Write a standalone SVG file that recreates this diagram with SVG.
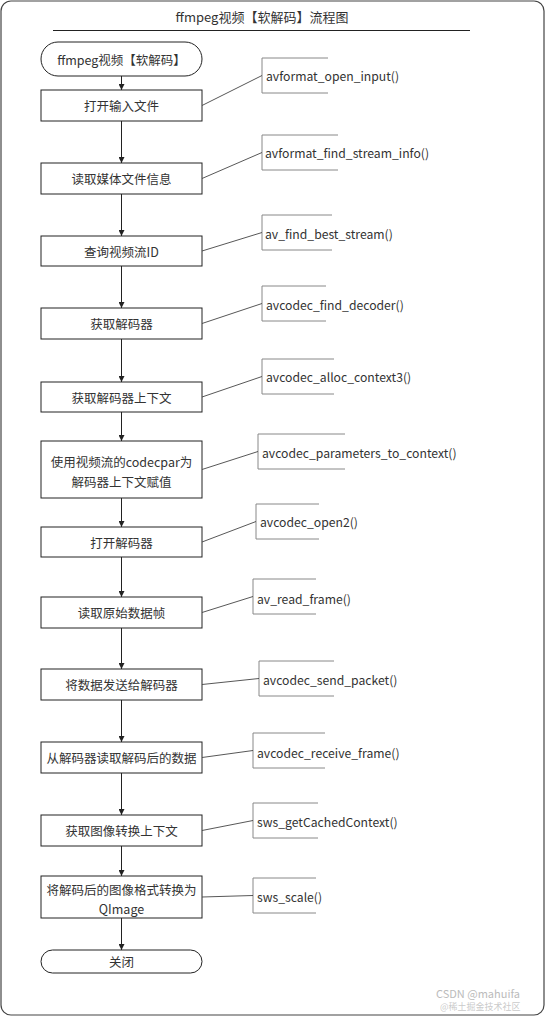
<svg xmlns="http://www.w3.org/2000/svg" width="545" height="1017" viewBox="0 0 545 1017">
<style>
  .frame{fill:#fff;stroke:#444;stroke-width:1.2}
  .box{fill:#fff;stroke:#222;stroke-width:1}
  .t{font-family:"Noto Sans CJK SC","Microsoft YaHei",sans-serif;font-size:12.5px;fill:#333;text-anchor:middle;dominant-baseline:central}
  .a{font-family:"Noto Sans CJK SC","Microsoft YaHei",sans-serif;font-size:12.2px;fill:#333;dominant-baseline:central}
  .br{fill:none;stroke:#888;stroke-width:1}
  .flow{stroke:#222;stroke-width:1;fill:none}
  .link{stroke:#444;stroke-width:0.9;fill:none}
  .wm{font-family:"Noto Sans CJK SC","Microsoft YaHei",sans-serif;fill:#bbb}
</style>
<defs>
  <marker id="arr" viewBox="0 0 10 10" refX="10" refY="5" markerWidth="6" markerHeight="6" markerUnits="userSpaceOnUse" orient="auto">
    <path d="M0,0 L10,5 L0,10 z" fill="#222"/>
  </marker>
</defs>
<rect class="frame" x="1" y="1" width="543" height="1014" rx="10"/>
<g id="title">
  <text class="t" x="262" y="16" style="font-size:13px">ffmpeg视频【软解码】流程图</text>
  <line x1="53" y1="30.5" x2="470" y2="30.5" stroke="#222" stroke-width="1"/>
</g>

<g id="n0"><rect class="box" x="41" y="42" width="161" height="34" rx="17"/><text class="t" x="121.5" y="59">ffmpeg视频【软解码】</text></g>
<g id="n1"><rect class="box" x="41" y="90" width="161" height="31"/><text class="t" x="121.5" y="105.5">打开输入文件</text></g>
<g id="n2"><rect class="box" x="41" y="163" width="161" height="31"/><text class="t" x="121.5" y="178.5">读取媒体文件信息</text></g>
<g id="n3"><rect class="box" x="41" y="236" width="161" height="30"/><text class="t" x="121.5" y="251">查询视频流ID</text></g>
<g id="n4"><rect class="box" x="41" y="308" width="161" height="31"/><text class="t" x="121.5" y="323.5">获取解码器</text></g>
<g id="n5"><rect class="box" x="41" y="382" width="161" height="30"/><text class="t" x="121.5" y="397">获取解码器上下文</text></g>
<g id="n6"><rect class="box" x="41" y="441" width="161" height="57"/><text class="t" x="121.5" y="461">使用视频流的codecpar为</text><text class="t" x="121.5" y="481">解码器上下文赋值</text></g>
<g id="n7"><rect class="box" x="41" y="527" width="161" height="30"/><text class="t" x="121.5" y="542">打开解码器</text></g>
<g id="n8"><rect class="box" x="41" y="597" width="161" height="31"/><text class="t" x="121.5" y="612.5">读取原始数据帧</text></g>
<g id="n9"><rect class="box" x="41" y="669" width="161" height="31"/><text class="t" x="121.5" y="684.5">将数据发送给解码器</text></g>
<g id="n10"><rect class="box" x="41" y="742" width="161" height="31"/><text class="t" x="121.5" y="757.5">从解码器读取解码后的数据</text></g>
<g id="n11"><rect class="box" x="41" y="815" width="161" height="31"/><text class="t" x="121.5" y="830.5">获取图像转换上下文</text></g>
<g id="n12"><rect class="box" x="41" y="876" width="161" height="42"/><text class="t" x="121.5" y="889">将解码后的图像格式转换为</text><text class="t" x="121.5" y="908">QImage</text></g>
<g id="n13"><rect class="box" x="41" y="950" width="161" height="23" rx="11.5"/><text class="t" x="121.5" y="961.5">关闭</text></g>

<g id="notes">
  <g id="a1"><path class="br" d="M328,58 H262 V93 H328"/><text class="a" x="266" y="76">avformat_open_input()</text></g>
  <g id="a2"><path class="br" d="M338,135 H262 V170 H338"/><text class="a" x="265" y="153">avformat_find_stream_info()</text></g>
  <g id="a3"><path class="br" d="M332,215 H262 V250 H332"/><text class="a" x="265" y="234">av_find_best_stream()</text></g>
  <g id="a4"><path class="br" d="M326,286 H262 V321 H326"/><text class="a" x="266" y="305">avcodec_find_decoder()</text></g>
  <g id="a5"><path class="br" d="M334,359 H262 V394 H334"/><text class="a" x="266" y="377">avcodec_alloc_context3()</text></g>
  <g id="a6"><path class="br" d="M345,434 H258 V469 H345"/><text class="a" x="262" y="453">avcodec_parameters_to_context()</text></g>
  <g id="a7"><path class="br" d="M319,504 H256 V539 H319"/><text class="a" x="260" y="522">avcodec_open2()</text></g>
  <g id="a8"><path class="br" d="M316,579 H253 V614 H316"/><text class="a" x="257" y="599">av_read_frame()</text></g>
  <g id="a9"><path class="br" d="M334,661 H259 V696 H334"/><text class="a" x="263" y="680">avcodec_send_packet()</text></g>
  <g id="a10"><path class="br" d="M325,733 H253 V768 H325"/><text class="a" x="257" y="753">avcodec_receive_frame()</text></g>
  <g id="a11"><path class="br" d="M318,803 H253 V838 H318"/><text class="a" x="257" y="822">sws_getCachedContext()</text></g>
  <g id="a12"><path class="br" d="M316,878 H253 V913 H316"/><text class="a" x="257" y="897">sws_scale()</text></g>
</g>

<g id="connectors">
  <line class="flow" x1="121.5" y1="76" x2="121.5" y2="90" marker-end="url(#arr)"/>
  <line class="flow" x1="121.5" y1="121" x2="121.5" y2="163" marker-end="url(#arr)"/>
  <line class="flow" x1="121.5" y1="194" x2="121.5" y2="236" marker-end="url(#arr)"/>
  <line class="flow" x1="121.5" y1="266" x2="121.5" y2="308" marker-end="url(#arr)"/>
  <line class="flow" x1="121.5" y1="339" x2="121.5" y2="382" marker-end="url(#arr)"/>
  <line class="flow" x1="121.5" y1="412" x2="121.5" y2="441" marker-end="url(#arr)"/>
  <line class="flow" x1="121.5" y1="498" x2="121.5" y2="527" marker-end="url(#arr)"/>
  <line class="flow" x1="121.5" y1="557" x2="121.5" y2="597" marker-end="url(#arr)"/>
  <line class="flow" x1="121.5" y1="628" x2="121.5" y2="669" marker-end="url(#arr)"/>
  <line class="flow" x1="121.5" y1="700" x2="121.5" y2="742" marker-end="url(#arr)"/>
  <line class="flow" x1="121.5" y1="773" x2="121.5" y2="815" marker-end="url(#arr)"/>
  <line class="flow" x1="121.5" y1="846" x2="121.5" y2="876" marker-end="url(#arr)"/>
  <line class="flow" x1="121.5" y1="918" x2="121.5" y2="950" marker-end="url(#arr)"/>

  <line class="link" x1="202" y1="105.5" x2="262" y2="75.5"/>
  <line class="link" x1="202" y1="178.5" x2="262" y2="152.5"/>
  <line class="link" x1="202" y1="251" x2="262" y2="232.5"/>
  <line class="link" x1="202" y1="323.5" x2="262" y2="303.5"/>
  <line class="link" x1="202" y1="397" x2="262" y2="376.5"/>
  <line class="link" x1="202" y1="469.5" x2="258" y2="451.5"/>
  <line class="link" x1="202" y1="542" x2="256" y2="521.5"/>
  <line class="link" x1="202" y1="612.5" x2="253" y2="596.5"/>
  <line class="link" x1="202" y1="684.5" x2="259" y2="678.5"/>
  <line class="link" x1="202" y1="757.5" x2="253" y2="750.5"/>
  <line class="link" x1="202" y1="830.5" x2="253" y2="820.5"/>
  <line class="link" x1="202" y1="897" x2="253" y2="895.5"/>
</g>
<g id="watermark">
  <text class="wm" x="436" y="998" font-size="11">CSDN @mahuifa</text>
  <text class="wm" x="440" y="1010" font-size="9" fill-opacity="0.8">@稀土掘金技术社区</text>
</g>
</svg>
